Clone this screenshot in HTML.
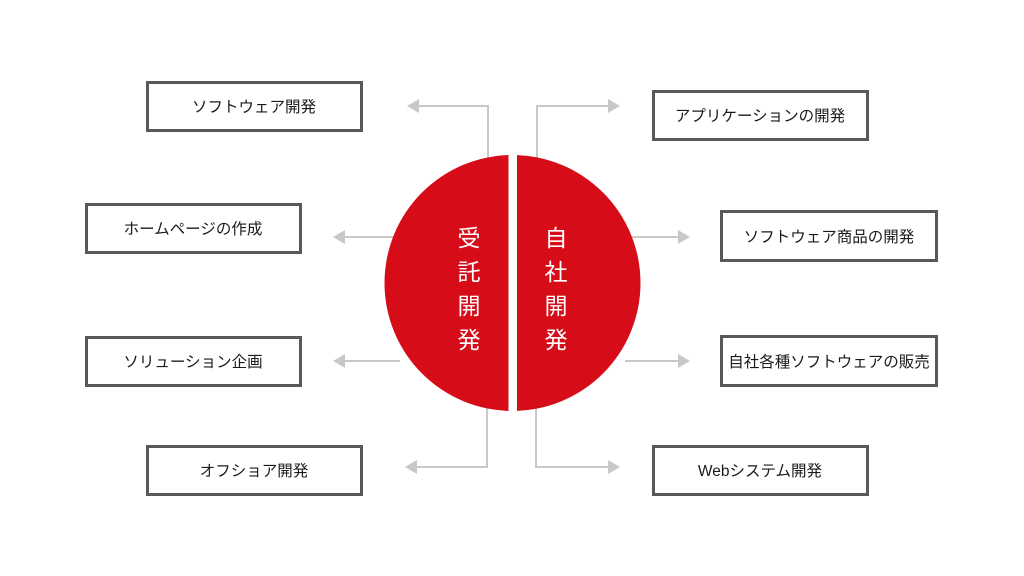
<!DOCTYPE html>
<html><head><meta charset="utf-8"><style>
html,body{margin:0;padding:0;background:#fff;}
svg{display:block;}
text{font-family:"Liberation Sans","Noto Sans CJK JP",sans-serif;}
</style></head><body>
<svg width="1024" height="576" viewBox="0 0 1024 576" xmlns="http://www.w3.org/2000/svg">
<defs>
<clipPath id="cl"><rect x="0" y="0" width="508.5" height="576"/></clipPath>
<clipPath id="cr"><rect x="517" y="0" width="600" height="576"/></clipPath>
</defs>
<g stroke="#c8c8c8" stroke-width="2" fill="none">
<polyline points="488,160 488,106 418,106"/>
<polyline points="537,160 537,106 608,106"/>
<line x1="400" y1="237" x2="345" y2="237"/>
<line x1="625" y1="237" x2="678" y2="237"/>
<line x1="400" y1="361" x2="345" y2="361"/>
<line x1="625" y1="361" x2="678" y2="361"/>
<polyline points="487,405 487,467 417,467"/>
<polyline points="536,405 536,467 608,467"/>
</g>
<g fill="#c8c8c8">
<polygon points="407,106 419,99 419,113"/>
<polygon points="620,106 608,99 608,113"/>
<polygon points="333,237 345,230 345,244"/>
<polygon points="690,237 678,230 678,244"/>
<polygon points="333,361 345,354 345,368"/>
<polygon points="690,361 678,354 678,368"/>
<polygon points="405,467 417,460 417,474"/>
<polygon points="620,467 608,460 608,474"/>
</g>
<circle cx="512.5" cy="283" r="128" fill="#d60c19" clip-path="url(#cl)"/>
<circle cx="512.5" cy="283" r="128" fill="#d60c19" clip-path="url(#cr)"/>
<g fill="#fff" font-size="23" text-anchor="middle">
<text x="469" y="246">受</text><text x="469" y="280">託</text><text x="469" y="314">開</text><text x="469" y="348">発</text>
<text x="556" y="246">自</text><text x="556" y="280">社</text><text x="556" y="314">開</text><text x="556" y="348">発</text>
</g>
<g fill="#fff" stroke="#595959" stroke-width="3">
<rect x="147.5" y="82.5" width="214" height="48"/>
<rect x="86.5" y="204.5" width="214" height="48"/>
<rect x="86.5" y="337.5" width="214" height="48"/>
<rect x="147.5" y="446.5" width="214" height="48"/>
<rect x="653.5" y="91.5" width="214" height="48"/>
<rect x="721.5" y="211.5" width="215" height="49"/>
<rect x="721.5" y="336.5" width="215" height="49"/>
<rect x="653.5" y="446.5" width="214" height="48"/>
</g>
<g fill="#1a1a1a" font-size="15.5" text-anchor="middle">
<text x="254" y="112">ソフトウェア開発</text>
<text x="193" y="234">ホームページの作成</text>
<text x="193" y="367">ソリューション企画</text>
<text x="254" y="476">オフショア開発</text>
<text x="760" y="121">アプリケーションの開発</text>
<text x="829" y="242">ソフトウェア商品の開発</text>
<text x="829" y="367">自社各種ソフトウェアの販売</text>
<text x="760" y="476">Webシステム開発</text>
</g>
</svg>
</body></html>
